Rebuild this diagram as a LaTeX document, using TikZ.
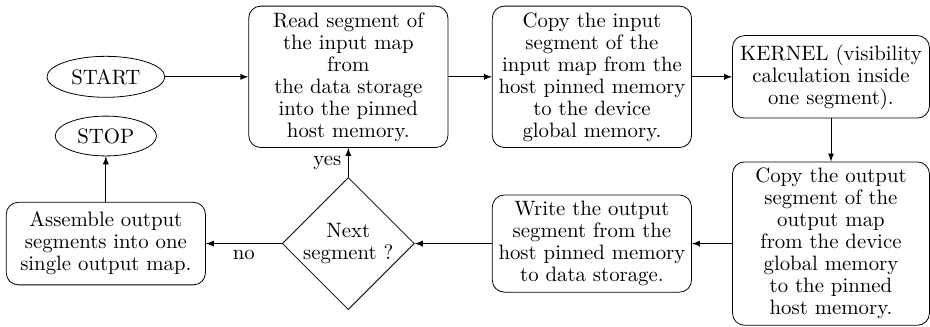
\documentclass[tikz,border=0pt]{standalone}
\usetikzlibrary{shapes.geometric}

\tikzset{
  >=latex,
  stepbox/.style={draw,rounded corners=6pt,align=center,inner sep=3.1pt,
    minimum width=3.5cm,minimum height=1.45cm,font=\fontsize{10.4}{11}\selectfont},
  termnode/.style={draw,ellipse,inner sep=1pt,font=\fontsize{10.4}{11}\selectfont},
  testnode/.style={draw,diamond,aspect=1,inner sep=0pt,minimum size=2.32cm,
    align=center,font=\fontsize{10.4}{11}\selectfont},
  flow/.style={->,thin}
}

\begin{document}
\begin{tikzpicture}

          \useasboundingbox (0,0) rectangle (16.34,5.73);

          % top row
          \node[termnode,minimum width=2.07cm,minimum height=0.72cm] (start) at (1.86,4.38) {START};
          \node[termnode,minimum width=1.78cm,minimum height=0.70cm] (stop) at (1.86,3.34) {STOP};

          \node[stepbox] (read) at (6.12,4.38) {Read segment of\\the input map\\from\\the data storage\\into the pinned\\host memory.};
          \node[stepbox] (copyin) at (10.40,4.38) {Copy the input\\segment of the\\input map from the\\host pinned memory\\to the device\\global memory.};
          \node[stepbox,minimum width=3.46cm] (kernel) at (14.60,4.38) {KERNEL (visibility\\calculation inside\\one segment).};

          % bottom row
          \node[stepbox,minimum width=3.46cm] (copyout) at (14.60,1.45) {Copy the output\\segment of the\\output map\\from the device\\global memory\\to the pinned\\host memory.};
          \node[stepbox] (write) at (10.40,1.45) {Write the output\\segment from the\\host pinned memory\\to data storage.};
          \node[testnode] (next) at (6.12,1.45) {Next\\segment ?};
          \node[stepbox] (assemble) at (1.86,1.45) {Assemble output\\segments into one\\single output map.};

          \draw[flow] (start) -- (read);
          \draw[flow] (read) -- (copyin);
          \draw[flow] (copyin) -- (kernel);
          \draw[flow] (kernel) -- (copyout);
          \draw[flow] (copyout) -- (write);
          \draw[flow] (write) -- (next);
          \draw[flow] (next) -- node[midway,left,font=\fontsize{10.4}{11}\selectfont] {yes} (read);
          \draw[flow] (next) -- node[midway,below,font=\fontsize{10.4}{11}\selectfont] {no} (assemble);
          \draw[flow] (assemble) -- (stop);

        \end{tikzpicture}
\end{document}
